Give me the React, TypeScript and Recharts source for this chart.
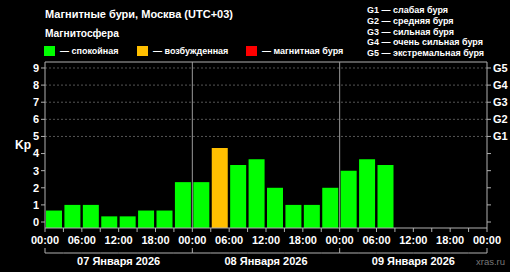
import React from 'react';
import { ComposedChart, Bar, Cell, XAxis, YAxis, ReferenceLine } from 'recharts';

// hours since 07 Jan 00:00, one 3-hour slot each
const SLOT_HOURS = [0, 3, 6, 9, 12, 15, 18, 21, 24, 27, 30, 33, 36, 39, 42, 45, 48, 51, 54, 57, 60, 63, 66, 69];
const KP_VALUES = [0.67, 1, 1, 0.33, 0.33, 0.67, 0.67, 2.33, 2.33, 4.33, 3.33, 3.67, 2, 1, 1, 2, 3, 3.67, 3.33, null, null, null, null, null];
const TIME_TICKS = [0, 3, 6, 9, 12, 15, 18, 21, 24, 27, 30, 33, 36, 39, 42, 45, 48, 51, 54, 57, 60, 63, 66, 69, 72];
const DAY_BOUNDS = [24, 48];
const DAY_LABELS = ['07 Января 2026', '08 Января 2026', '09 Января 2026'];
const KP_TICKS = [0, 1, 2, 3, 4, 5, 6, 7, 8, 9];
const GRID_LEVELS = [5, 6, 7, 8, 9];
const G_TICK_LABELS: Record<number, string> = { 5: 'G1', 6: 'G2', 7: 'G3', 8: 'G4', 9: 'G5' };
const G_LEGEND = ['G1 — слабая буря', 'G2 — средняя буря', 'G3 — сильная буря', 'G4 — очень сильная буря', 'G5 — экстремальная буря'];
const STATE_LEGEND = [
  { label: '— спокойная', color: '#00ff00', x: 44 },
  { label: '— возбужденная', color: '#ffbf00', x: 137 },
  { label: '— магнитная буря', color: '#ff0000', x: 246 },
];

const W = 510;
const H = 272;
const LEFT_W = 45;
const RIGHT_W = 23;
const PLOT_W = W - LEFT_W - RIGHT_W;
const STEP_PX = (PLOT_W * 3) / 72;

const Y_MIN = -0.35;
const Y_MAX = 9.35;
const FONT = '"Liberation Sans", Arial, sans-serif';
const AXIS = '#b0b0b0';

const kpColor = (kp: number) => (kp >= 5 ? '#ff0000' : kp >= 4 ? '#ffbf00' : '#00ff00');

const data = SLOT_HOURS.map((h, i) => ({ hour: h + 1.5, kp: KP_VALUES[i] }));

const pad = (n: number) => (n < 10 ? '0' + n : '' + n);

const TimeTick = (props: any) => {
  const { x, y, payload } = props;
  const v = payload.value as number;
  return (
    <g>
      {v % 6 === 0 && (
        <text x={x} y={y + 9} textAnchor="middle" fill="#fff" fontSize={11} fontWeight="bold" fontFamily={FONT}>
          {pad(v % 24) + ':00'}
        </text>
      )}
      {v < 72 && <line x1={x} x2={x + STEP_PX} y1={y + 18} y2={y + 18} stroke={AXIS} />}
      {v % 24 === 0 && <line x1={x} x2={x} y1={y + 13} y2={y + 18} stroke={AXIS} />}
      {v % 24 === 12 && (
        <text x={x} y={y + 30} textAnchor="middle" fill="#fff" fontSize={11} fontWeight="bold" fontFamily={FONT}>
          {DAY_LABELS[Math.floor(v / 24)]}
        </text>
      )}
    </g>
  );
};

const txt = (top: number, left: number, size: number, extra: React.CSSProperties = {}) => ({
  position: 'absolute' as const,
  top: top - 6,
  left,
  lineHeight: '12px',
  fontSize: size,
  fontWeight: 'bold' as const,
  color: '#fff',
  whiteSpace: 'nowrap' as const,
  ...extra,
});

export default function App() {
  return (
    <div style={{ position: 'relative', width: W, height: H, background: '#000', fontFamily: FONT }}>
      <style>{'body{margin:0;background:#000}'}</style>
      <ComposedChart width={W} height={H} data={data} margin={{ top: 62, right: 0, bottom: 0, left: 0 }} barCategoryGap={1}>
        <XAxis
          xAxisId="hours"
          dataKey="hour"
          type="number"
          domain={[0, 72]}
          allowDataOverflow
          ticks={TIME_TICKS}
          interval={0}
          height={44}
          tickSize={4}
          tickMargin={3}
          stroke={AXIS}
          tick={<TimeTick />}
        />
        <YAxis
          yAxisId="kp"
          type="number"
          domain={[Y_MIN, Y_MAX]}
          allowDataOverflow
          ticks={KP_TICKS}
          interval={0}
          width={LEFT_W}
          tickSize={4}
          tickMargin={2}
          stroke={AXIS}
          tick={{ fill: '#fff', fontSize: 11, fontWeight: 'bold', fontFamily: FONT }}
          label={{ value: 'Kp', position: 'insideLeft', offset: 15, fill: '#fff', fontSize: 12, fontWeight: 'bold', fontFamily: FONT }}
        />
        <YAxis
          yAxisId="g"
          orientation="right"
          type="number"
          domain={[Y_MIN, Y_MAX]}
          allowDataOverflow
          ticks={KP_TICKS}
          interval={0}
          width={RIGHT_W}
          tickSize={4}
          tickMargin={2}
          stroke={AXIS}
          tickFormatter={(v: number) => G_TICK_LABELS[v] ?? ''}
          tick={{ fill: '#fff', fontSize: 11, fontWeight: 'bold', fontFamily: FONT }}
        />
        {GRID_LEVELS.map((g) => (
          <ReferenceLine key={g} xAxisId="hours" yAxisId="kp" y={g} stroke="#555" strokeDasharray="2 2" />
        ))}
        <ReferenceLine xAxisId="hours" yAxisId="kp" y={Y_MAX} stroke={AXIS} />
        <Bar
          xAxisId="hours"
          yAxisId="kp"
          dataKey={(d: any) => (d.kp == null ? [Y_MIN, Y_MIN] : [Y_MIN, d.kp])}
          isAnimationActive={false}
        >
          {data.map((d, i) => (
            <Cell key={i} fill={d.kp == null ? 'none' : kpColor(d.kp)} />
          ))}
        </Bar>
        {DAY_BOUNDS.map((h) => (
          <ReferenceLine key={h} xAxisId="hours" yAxisId="kp" x={h} stroke="#999" />
        ))}
      </ComposedChart>

      <div style={txt(14, 45, 11)}>Магнитные бури, Москва (UTC+03)</div>
      <div style={txt(34, 45, 10.2)}>Магнитосфера</div>
      {STATE_LEGEND.map((s) => (
        <React.Fragment key={s.label}>
          <div style={{ position: 'absolute', left: s.x, top: 46, width: 11, height: 10, background: s.color }} />
          <div style={txt(51, s.x + 16, 9)}>{s.label}</div>
        </React.Fragment>
      ))}
      {G_LEGEND.map((g, i) => (
        <div key={g} style={txt(10 + i * 10.8, 367, 9)}>{g}</div>
      ))}
      <div style={txt(262, 476, 9.5, { fontWeight: 'normal', color: '#777' })}>xras.ru</div>
    </div>
  );
}
